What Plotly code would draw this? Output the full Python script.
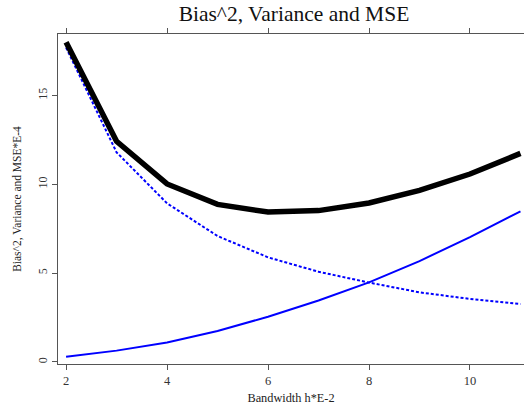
import plotly.graph_objects as go

bandwidth = [2, 3, 4, 5, 6, 7, 8, 9, 10, 11]
mse = [18.0, 12.42, 10.02, 8.87, 8.44, 8.52, 8.95, 9.66, 10.58, 11.74]
variance = [17.7, 11.8, 8.93, 7.09, 5.89, 5.08, 4.47, 3.92, 3.55, 3.26]
bias2 = [0.30, 0.64, 1.10, 1.74, 2.55, 3.46, 4.48, 5.68, 7.03, 8.48]

xticks = [2, 4, 6, 8, 10]
yticks = [0, 5, 10, 15]

font_family = "Liberation Serif, Times New Roman, serif"

fig = go.Figure()
fig.add_trace(go.Scatter(x=bandwidth, y=variance, mode="lines",
                         line=dict(color="#0000ff", width=2, dash="3px,2px"),
                         name="Variance"))
fig.add_trace(go.Scatter(x=bandwidth, y=bias2, mode="lines",
                         line=dict(color="#0000ff", width=2),
                         name="Bias^2"))
fig.add_trace(go.Scatter(x=bandwidth, y=mse, mode="lines",
                         line=dict(color="black", width=5.5),
                         name="MSE"))

fig.update_layout(
    width=524, height=406,
    margin=dict(l=58, r=0, t=34, b=42),
    paper_bgcolor="white", plot_bgcolor="white",
    showlegend=False,
    font=dict(family=font_family, color="#222", size=11),
    title=dict(text="Bias^2, Variance and MSE", x=0.561, xanchor="center",
               y=0.967, yanchor="middle",
               font=dict(family=font_family, size=21.5, color="#111")),
)
fig.update_xaxes(
    range=[1.84, 11.07], tickvals=xticks, ticktext=[str(v) for v in xticks],
    showgrid=False, zeroline=False,
    showline=True, linecolor="#555", linewidth=1, mirror="allticks",
    ticks="outside", ticklen=5, tickcolor="#555",
    tickfont=dict(size=12.5, color="#333"),
    title=dict(text="Bandwidth h*E-2", standoff=6, font=dict(size=12.3, color="#222")),
)
fig.update_yaxes(
    range=[-0.113, 18.46], tickvals=yticks, ticktext=[str(v) for v in yticks],
    showgrid=False, zeroline=False,
    showline=True, linecolor="#555", linewidth=1, mirror=False,
    ticks="outside", ticklen=5, tickcolor="#555", tickangle=-90,
    tickfont=dict(size=12, color="#333"),
    title=dict(text="Bias^2, Variance and MSE*E-4", standoff=12, font=dict(size=11.5, color="#222")),
)

fig.write_html("out.html")
